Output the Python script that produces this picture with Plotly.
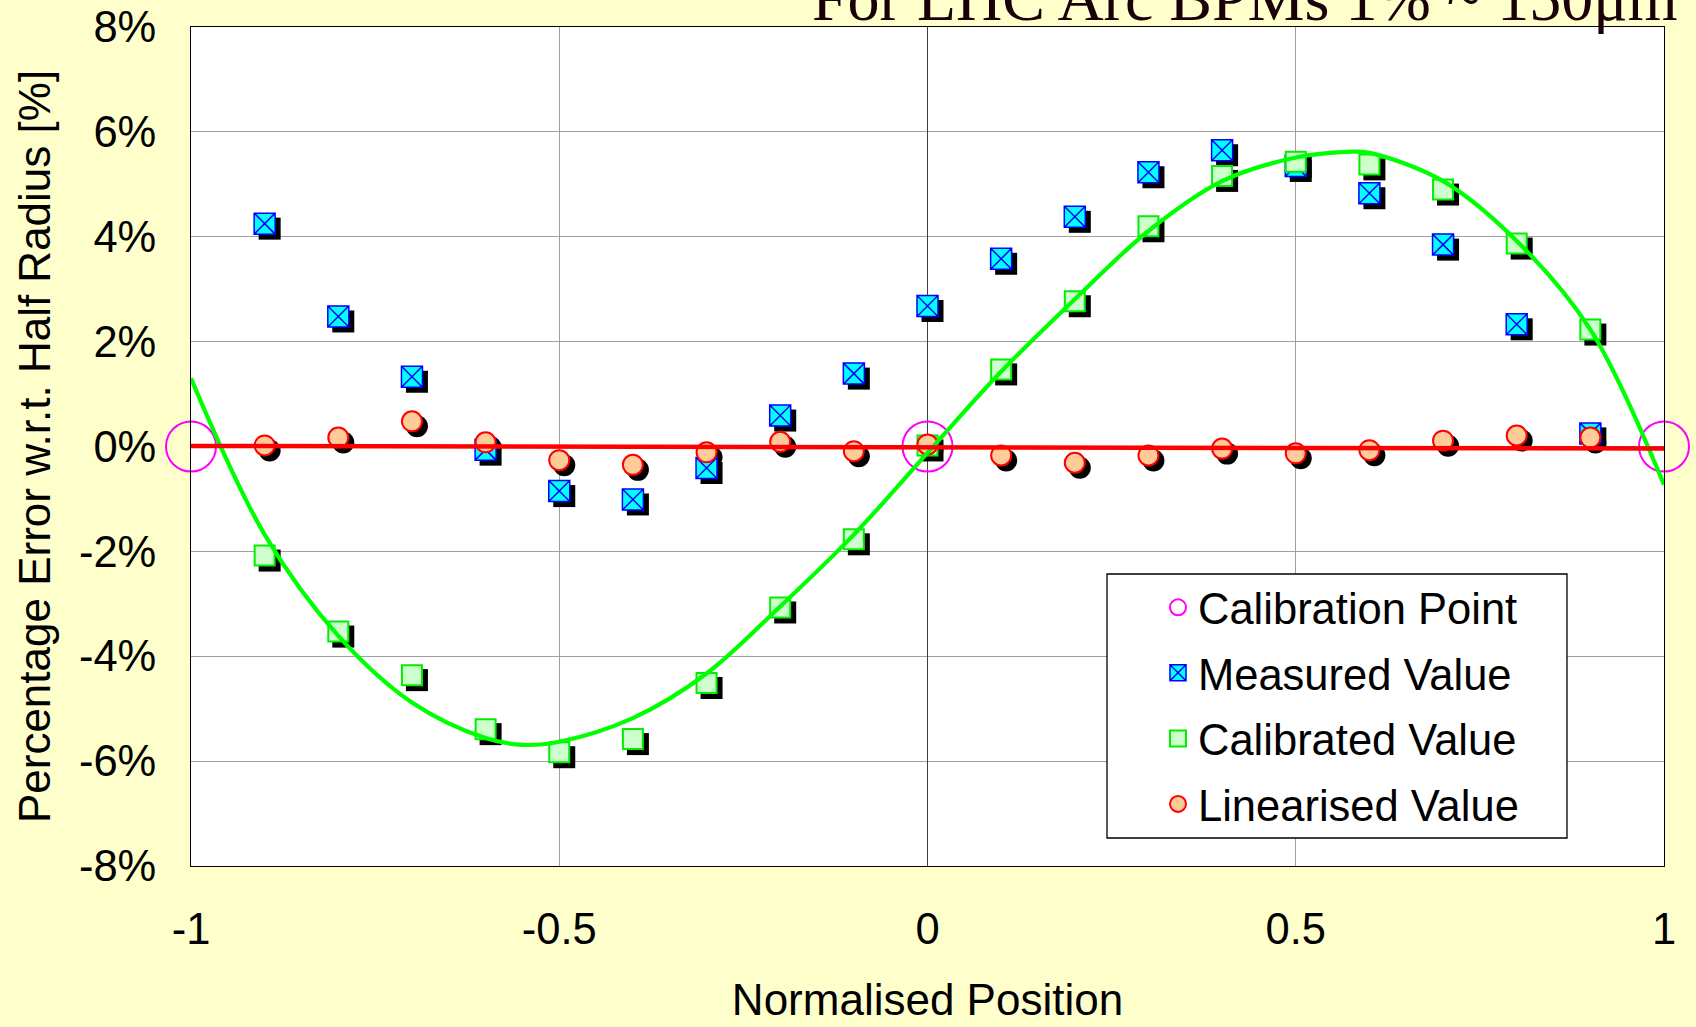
import plotly.graph_objects as go

# ---------------- data ----------------
positions = [-0.9, -0.8, -0.7, -0.6, -0.5, -0.4, -0.3, -0.2, -0.1, 0.0,
             0.1, 0.2, 0.3, 0.4, 0.5, 0.6, 0.7, 0.8, 0.9]
measured = [4.25, 2.48, 1.33, -0.06, -0.85, -1.01, -0.41, 0.59, 1.39, 2.68,
            3.58, 4.38, 5.23, 5.65, 5.35, 4.83, 3.85, 2.33, 0.25]
calibrated = [-2.08, -3.53, -4.36, -5.39, -5.83, -5.58, -4.51, -3.07, -1.77, 0.02,
              1.47, 2.77, 4.20, 5.16, 5.43, 5.38, 4.90, 3.87, 2.23]
linearised = [0.02, 0.17, 0.48, 0.08, -0.26, -0.35, -0.11, 0.09, -0.09, 0.04,
              -0.17, -0.31, -0.17, -0.04, -0.13, -0.07, 0.11, 0.21, 0.17]

calib_x = [-1.0, 0.0, 1.0]
calib_y = [0.0, 0.0, 0.0]

fit_x = [-1.0, -0.9, -0.8, -0.7, -0.6, -0.55, -0.5, -0.4, -0.3, -0.2, -0.1, 0.0,
         0.1, 0.2, 0.3, 0.4, 0.5, 0.57, 0.6, 0.7, 0.8, 0.9, 1.0]
fit_y = [1.3, -1.68, -3.61, -4.88, -5.56, -5.69, -5.63, -5.18, -4.33, -3.05, -1.68, -0.12,
         1.43, 2.81, 4.11, 5.06, 5.51, 5.62, 5.60, 5.06, 3.92, 2.23, -0.73]

lin_x = [-1.0, 1.0]
lin_y = [0.01, -0.04]

x_ticks = [-1, -0.5, 0, 0.5, 1]
x_ticktext = ["-1", "-0.5", "0", "0.5", "1"]
y_ticks = [-8, -6, -4, -2, 0, 2, 4, 6, 8]
y_ticktext = ["-8%", "-6%", "-4%", "-2%", "0%", "2%", "4%", "6%", "8%"]

title_text = "For LHC Arc BPMs 1% ~ 150\u03bcm"
x_title = "Normalised Position"
y_title = "Percentage Error w.r.t. Half Radius [%]"

# ---------------- layout geometry ----------------
W, H = 1696, 1027
ML, MR, MT, MB = 191, 27, 27, 156
PW, PH = W - ML - MR, H - MT - MB
SH = 5  # shadow offset in px
dx, dy = SH / PW, SH / PH

FONT = "Liberation Sans, Arial, sans-serif"
FS_TICK = 43.5
FS_TITLE = 44
FS_LEG = 43.5

fig = go.Figure()

# calibration points (base subplot)
fig.add_trace(go.Scatter(
    x=calib_x, y=calib_y, mode="markers", name="Calibration Point",
    xaxis="x", yaxis="y", cliponaxis=False, legendgroup="a",
    marker=dict(symbol="circle-open", size=50, color="#ff00ff",
                line=dict(width=2, color="#ff00ff"))))

# shadows (offset subplot)
for ys, sym, sz in [(measured, "square", 22), (calibrated, "square", 22),
                    (linearised, "circle", 22)]:
    fig.add_trace(go.Scatter(
        x=positions, y=ys, mode="markers", xaxis="x2", yaxis="y2",
        showlegend=False, hoverinfo="skip", cliponaxis=False,
        marker=dict(symbol=sym, size=sz, color="black", line=dict(width=0))))

# main markers
fig.add_trace(go.Scatter(
    x=positions, y=measured, mode="markers", name="Measured Value",
    xaxis="x3", yaxis="y3", cliponaxis=False, legendgroup="b",
    marker=dict(symbol="square-x", size=21, color="#00ffff",
                line=dict(width=1.5, color="#0000ff"))))
fig.add_trace(go.Scatter(
    x=positions, y=calibrated, mode="markers", name="Calibrated Value",
    xaxis="x3", yaxis="y3", cliponaxis=False, legendgroup="c",
    marker=dict(symbol="square", size=20, color="#ccffcc",
                line=dict(width=2, color="#00ee00"))))
fig.add_trace(go.Scatter(
    x=positions, y=linearised, mode="markers", name="Linearised Value",
    xaxis="x3", yaxis="y3", cliponaxis=False, legendgroup="d",
    marker=dict(symbol="circle", size=20, color="#ffcc99",
                line=dict(width=2, color="#ff0000"))))

# fitted lines
fig.add_trace(go.Scatter(
    x=fit_x, y=fit_y, mode="lines", xaxis="x3", yaxis="y3", showlegend=False,
    line=dict(color="#00ff00", width=4.2, shape="spline", smoothing=1.0)))
fig.add_trace(go.Scatter(
    x=lin_x, y=lin_y, mode="lines", xaxis="x3", yaxis="y3", showlegend=False,
    line=dict(color="#ff0000", width=4.5)))

grid = "#a0a0a0"
tickfont = dict(family=FONT, size=FS_TICK, color="black")

fig.update_layout(
    width=W, height=H,
    margin=dict(l=ML, r=MR, t=MT, b=MB, pad=0, autoexpand=False),
    paper_bgcolor="#ffffcc", plot_bgcolor="rgba(0,0,0,0)",
    showlegend=True,
    xaxis=dict(domain=[0, 1 - dx], range=[-1, 1], anchor="y", automargin=False,
               tickvals=x_ticks, ticktext=x_ticktext, tickfont=tickfont,
               ticks="", ticklabelstandoff=25,
               showgrid=True, gridcolor=grid, gridwidth=1,
               zeroline=True, zerolinecolor="#404040", zerolinewidth=1,
               showline=True, mirror=True, linecolor="black", linewidth=1,
               title=dict(text=x_title, font=dict(family=FONT, size=FS_TITLE, color="black"),
                          standoff=31)),
    yaxis=dict(domain=[dy, 1], range=[-8, 8], anchor="x", automargin=False,
               tickvals=y_ticks, ticktext=y_ticktext, tickfont=tickfont,
               ticks="", ticklabelstandoff=25,
               showgrid=True, gridcolor=grid, gridwidth=1,
               zeroline=True, zerolinecolor="#808080", zerolinewidth=1,
               showline=True, mirror=True, linecolor="black", linewidth=1,
               title=dict(text=y_title, font=dict(family=FONT, size=FS_TITLE, color="black"),
                          standoff=14)),
    yaxis4=dict(overlaying="y", anchor="free", position=(0.5 * (1 - dx)),
                automargin=False,
                range=[-8, 8], tickvals=y_ticks, showticklabels=False,
                ticks="outside", ticklen=13, tickcolor="#404040", tickwidth=1,
                showline=True, linecolor="#404040", linewidth=1,
                showgrid=False, zeroline=False, layer="below traces"),
    xaxis2=dict(domain=[dx, 1], range=[-1, 1], anchor="y2", visible=False),
    yaxis2=dict(domain=[0, 1 - dy], range=[-8, 8], anchor="x2", visible=False),
    xaxis3=dict(domain=[0, 1 - dx], range=[-1, 1], anchor="y3", visible=False),
    yaxis3=dict(domain=[dy, 1], range=[-8, 8], anchor="x3", visible=False),
    legend=dict(x=(1158 - ML) / PW, y=(H - MB - 572.5) / PH, xanchor="left", yanchor="top",
                bgcolor="rgba(0,0,0,0)", borderwidth=0,
                font=dict(family=FONT, size=FS_LEG, color="black"),
                traceorder="grouped", tracegroupgap=6),
    shapes=[
        # white plotting area
        dict(type="rect", xref="paper", yref="paper",
             x0=0, x1=1 - dx, y0=dy, y1=1,
             fillcolor="white", line=dict(width=0), layer="below"),
        # legend box
        dict(type="rect", xref="paper", yref="paper",
             x0=(1107 - ML) / PW, x1=(1567 - ML) / PW,
             y0=(H - MB - 838) / PH, y1=(H - MB - 574) / PH,
             fillcolor="white", line=dict(color="black", width=1.3),
             layer="above")],
    annotations=[dict(text=title_text, xref="paper", yref="paper",
                      x=(1679 - ML) / PW, xanchor="right",
                      y=(H - MB - 36) / PH, yanchor="bottom", showarrow=False,
                      font=dict(family="Liberation Serif, Times New Roman, serif",
                                size=64, color="#1a0008"))],
)

fig.write_html("out.html")
